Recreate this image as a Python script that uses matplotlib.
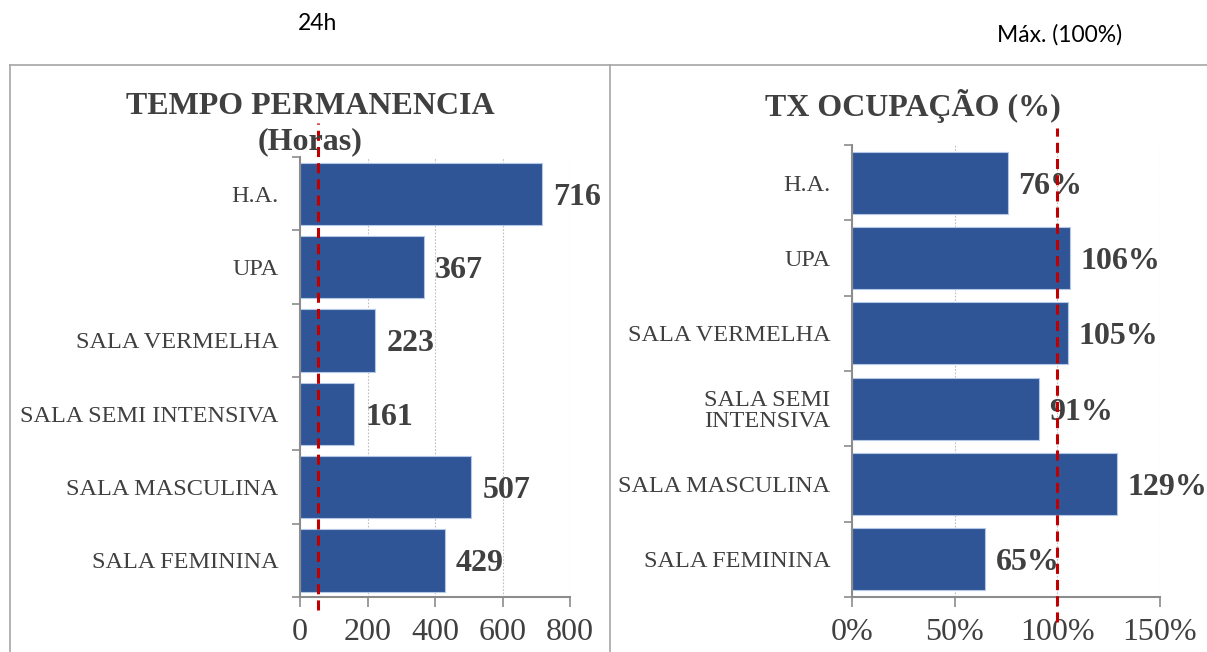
import matplotlib
matplotlib.use("Agg")
import matplotlib.pyplot as plt
from matplotlib.lines import Line2D
import numpy as np

categories_left = ["H.A.", "UPA", "SALA VERMELHA", "SALA SEMI INTENSIVA",
                   "SALA MASCULINA", "SALA FEMININA"]
categories_right = ["H.A.", "UPA", "SALA VERMELHA", "SALA SEMI\nINTENSIVA",
                    "SALA MASCULINA", "SALA FEMININA"]
tempo_horas = [716, 367, 223, 161, 507, 429]
ocupacao = [0.76, 1.06, 1.05, 0.91, 1.29, 0.65]
ref_tempo = 53      # dashed reference line position (as drawn)
ref_ocup = 1.00
left_ticks = [0, 200, 400, 600, 800]
right_ticks = [0, 0.5, 1.0, 1.5]
right_ticklabels = ["0%", "50%", "100%", "150%"]

W, H = 1207, 652
fig = plt.figure(figsize=(W / 100, H / 100), dpi=100)
SERIF = "Liberation Serif"
TXT = "#404040"
BAR = "#2F5597"
GRID = "#BFBFBF"
AX = "#8C8C8C"


def fx(px):
    return px / W


def fy(py):
    return 1 - py / H


# panel borders
for (x0, y0, x1, y1) in [(10, 65, 1207, 65), (10, 65, 10, 652), (610, 65, 610, 652)]:
    fig.add_artist(Line2D([fx(x0), fx(x1)], [fy(y0), fy(y1)], color="#A6A6A6", lw=1.2))

fig.text(fx(318), fy(23), "24h", ha="center", va="center", fontsize=16.5,
         family="Lato", color="black")
fig.text(fx(1060), fy(35), "Máx. (100%)", ha="center", va="center", fontsize=16.5,
         family="Lato", color="black")


def setup(ax, cats, vals, ticks, ticklabels, xmax, height, fmt, offset):
    y = np.arange(len(cats))
    ax.barh(y, vals, height=height, color=BAR, edgecolor="#B4C7E7", linewidth=0.8, zorder=2)
    ax.set_ylim(len(cats) - 0.5, -0.5)
    ax.set_xlim(0, xmax)
    ax.set_yticks(y)
    ax.set_yticklabels(cats, fontsize=17.5, family=SERIF, color=TXT, linespacing=1.0)
    ax.set_yticks(np.arange(len(cats) + 1) - 0.5, minor=True)
    ax.tick_params(axis="y", which="major", length=0, pad=15.5)
    ax.tick_params(axis="y", which="minor", length=6, color=AX, width=1.2)
    ax.set_xticks(ticks)
    ax.set_xticklabels(ticklabels, fontsize=23, family=SERIF, color=TXT)
    ax.tick_params(axis="x", length=7, color=AX, width=1.2, pad=8)
    for s in ["top", "right"]:
        ax.spines[s].set_visible(False)
    for s in ["left", "bottom"]:
        ax.spines[s].set_color(AX)
        ax.spines[s].set_linewidth(1.5)
    ax.grid(axis="x", color=GRID, linestyle=(0, (1.5, 1.5)), linewidth=0.8, zorder=0)
    ax.set_axisbelow(True)
    for yi, v in zip(y, vals):
        ax.annotate(fmt(v), (v, yi), xytext=(offset, 0), textcoords="offset points",
                    ha="left", va="center_baseline", fontsize=23, fontweight="bold",
                    family=SERIF, color=TXT, zorder=3)


# left axes
axL = fig.add_axes([fx(300), fy(597), fx(570) - fx(300), (597 - 157) / H])
setup(axL, categories_left, tempo_horas, left_ticks, [str(t) for t in left_ticks],
      800, 0.85, lambda v: f"{v}", 8)
axL.plot([ref_tempo, ref_tempo], [-0.03, 1.077], transform=axL.get_xaxis_transform(),
         color="#C00000", lw=2.2, ls=(0, (3.3, 2)), clip_on=False, zorder=5)
fig.text(fx(310), fy(107), "TEMPO PERMANENCIA", ha="center", va="center",
         fontsize=23, fontweight="bold", family=SERIF, color=TXT)
fig.text(fx(310), fy(142), "(Horas)", ha="center", va="center",
         fontsize=23, fontweight="bold", family=SERIF, color=TXT)

# right axes
axR = fig.add_axes([fx(852), fy(597), fx(1160) - fx(852), (597 - 145) / H])
setup(axR, categories_right, ocupacao, right_ticks, right_ticklabels,
      1.5, 0.82, lambda v: f"{round(v * 100)}%", 7.5)
axR.plot([ref_ocup, ref_ocup], [-0.055, 1.038], transform=axR.get_xaxis_transform(),
         color="#C00000", lw=2.2, ls=(0, (3.3, 2)), clip_on=False, zorder=5)
fig.text(fx(913), fy(106), "TX OCUPAÇÃO (%)", ha="center", va="center",
         fontsize=23, fontweight="bold", family=SERIF, color=TXT)

fig.savefig("out.png", dpi=100)
